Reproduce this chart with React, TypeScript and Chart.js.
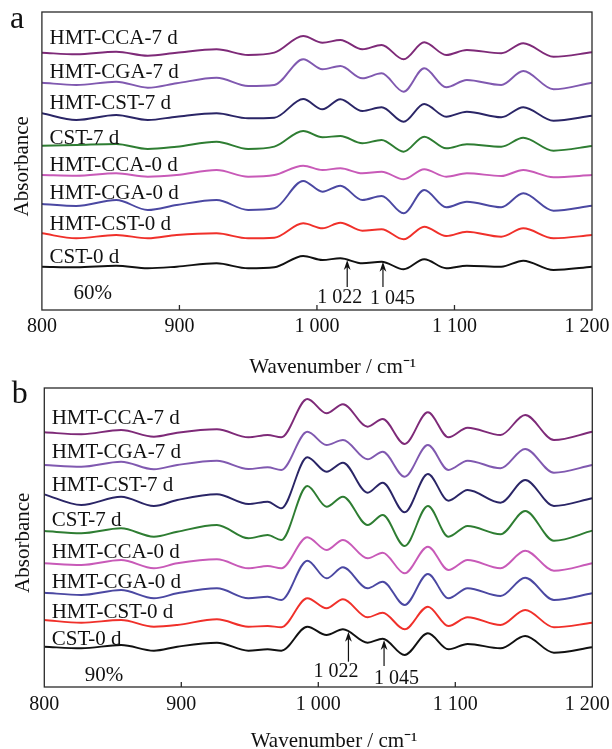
import React, { useEffect, useRef } from 'react';
import { Chart, registerables } from 'chart.js';

Chart.register(...registerables);

const FONT = '"Liberation Serif", "Times New Roman", serif';
const INK = '#111111';

// ---------- data ----------
const SERIES_NAMES = ['HMT-CCA-7 d', 'HMT-CGA-7 d', 'HMT-CST-7 d', 'CST-7 d', 'HMT-CCA-0 d', 'HMT-CGA-0 d', 'HMT-CST-0 d', 'CST-0 d'];
const SERIES_COLORS = ['#7E2A78', '#8059B0', '#2A2566', '#2E7D32', '#C85AB8', '#4B48A2', '#F0302A', '#111111'];
const X_TICKS = [800, 900, 1000, 1100, 1200];

// panel a (60%) wavenumbers (cm-1) and stacked absorbance (arb. units)
const XA = [800, 825, 854, 877, 898, 927, 950, 969, 990, 1004, 1017, 1033, 1047, 1063, 1078, 1094, 1109, 1134, 1150, 1172, 1200];
const A_CCA7 = [258.3, 256.7, 259.3, 255.3, 258.3, 261.7, 256, 258.3, 275, 268.3, 271, 261.7, 266, 251.7, 268.7, 256, 261, 257.7, 267.7, 254.3, 258.7];
const A_CGA7 = [228.3, 226, 229.3, 223.3, 227.7, 233.3, 225, 226, 251.7, 241.7, 245, 232.7, 237.7, 219.3, 242.7, 223.7, 231, 226, 240, 221.7, 228.3];
const A_HCST7 = [197.7, 191, 196, 191, 194.3, 197.7, 192.7, 193.3, 212, 201.7, 211.7, 200, 203.7, 189.3, 207, 194.3, 199.3, 193.7, 203.7, 190.3, 195.3];
const A_CST7 = [165.3, 166, 167, 162, 164.3, 169.3, 162, 164.3, 180, 173.7, 175, 167.7, 171, 159.3, 174.3, 162.7, 166.7, 164.3, 173.3, 160.3, 165];
const A_CCA0 = [136, 135.3, 137.7, 134.3, 136, 141, 134.3, 136, 145.3, 141, 142.7, 137.7, 139.3, 131.7, 141.7, 134.3, 137.7, 135, 141, 133.7, 136];
const A_CGA0 = [107, 105, 111, 101, 106, 111, 101, 102.7, 130, 119.3, 125.3, 111, 115, 97.7, 121, 103.7, 109.3, 103.7, 117.7, 100.3, 105.3];
const A_HCST0 = [77.7, 72.7, 76, 72.7, 76, 77.7, 72.7, 73.3, 87.7, 82.7, 88.3, 80.3, 81.7, 71.7, 84.3, 75, 79.3, 74.3, 82.7, 72.7, 76];
const A_CST0 = [44.3, 43.7, 45.3, 42.7, 44.3, 47.7, 42.7, 43.7, 55, 51, 52.7, 47.7, 49.3, 41.7, 51.7, 42.7, 45.3, 44.3, 50.3, 41, 44.3];

// panel b (90%)
const XB = [800, 827, 856, 880, 897, 926, 949, 963, 973, 992, 1006, 1018, 1036, 1047, 1063, 1080, 1095, 1109, 1133, 1151, 1172, 1200];
const B_CCA7 = [254.7, 252.7, 257, 250.3, 254.3, 257.7, 249.7, 252, 249.7, 288, 273.7, 282.7, 260.3, 268, 243, 274.7, 249.7, 259.3, 252, 272, 247, 255.3];
const B_CGA7 = [222, 220.3, 225.3, 217.7, 222, 226.3, 218, 219.7, 217, 255.3, 242, 247, 227.7, 235.3, 210.3, 242, 217, 226.3, 218.7, 238, 214.3, 222];
const B_HCST7 = [192.7, 182, 190.3, 181, 187, 192.7, 183, 185.3, 178.7, 229.7, 215.3, 224.3, 194.3, 204.3, 174.7, 213, 186.3, 197, 184.3, 207, 181, 188.7];
const B_CST7 = [156, 153.7, 158.7, 150.3, 155.3, 162, 148.7, 152, 147, 201, 180.3, 190.3, 162, 172, 141, 181, 150.3, 161, 152.7, 176, 146.3, 156.3];
const B_CCA0 = [123.7, 122, 127, 118.7, 123.7, 127.7, 118.7, 121, 118.7, 149.7, 137, 147, 128.7, 134.3, 113.7, 140.3, 117, 127, 118.7, 136.3, 116.3, 123.7];
const B_CGA0 = [94.3, 92, 97, 88.7, 93.7, 98.7, 88.7, 90.3, 87, 126.3, 108.7, 119.7, 98.7, 105.3, 82, 113, 88.7, 98.7, 91, 109.3, 87, 93.7];
const B_HCST0 = [67, 64.3, 67, 60.3, 62, 67.7, 60.3, 61, 59.7, 88.7, 78.7, 87.7, 69.7, 74.3, 57.7, 80.3, 61, 69.7, 62, 77, 59.7, 64.3];
const B_CST0 = [40.3, 38.7, 42, 36.3, 40.3, 44.3, 36.3, 37.7, 36.3, 60.3, 52, 57.7, 44.3, 48.3, 32, 53.7, 37.7, 43, 38.7, 51, 34.3, 39.7];

// marked peaks
const A_MARKS = [
  { text: '1 022', at: 1022, tip: 51, tail: 24, tx: 1016.6, ty: 13 },
  { text: '1 045', at: 1048, tip: 49.3, tail: 24, tx: 1055, ty: 12.5 },
];
const B_MARKS = [
  { text: '1 022', at: 1022, tip: 55.3, tail: 25.3, tx: 1013, ty: 15.5 },
  { text: '1 045', at: 1048, tip: 47, tail: 21, tx: 1057, ty: 8.5 },
];

const NB = '\u00A0';
const X_TITLE = NB.repeat(6) + 'Wavenumber / cm\u207B\u00B9';
const Y_TITLE = 'Absorbance' + NB.repeat(2);

type Mark = { text: string; at: number; tip: number; tail: number; tx: number; ty: number };
type PanelCfg = {
  height: number;
  letter: string;
  letterPos: [number, number];
  pct: string;
  pctAt: [number, number];
  x: number[];
  series: number[][];
  yMin: number;
  yMax: number;
  gaps: number[];
  labelDx: number;
  marks: Mark[];
  pad: { top: number; right: number; left: number; bottom: number };
  yTitlePad: { top: number; bottom: number };
  xTickPad: number;
  xTitleLH: number;
  xTitlePad: { top: number; bottom: number };
};

const PANEL_A: PanelCfg = {
  height: 380,
  letter: 'a',
  letterPos: [10, 27.7],
  pct: '60%',
  pctAt: [837, 18],
  x: XA,
  series: [A_CCA7, A_CGA7, A_HCST7, A_CST7, A_CCA0, A_CGA0, A_HCST0, A_CST0],
  yMin: 1,
  yMax: 299,
  gaps: [9, 5, 4.3, 2, 4, 5.3, 3.3, 3.3],
  labelDx: 7.6,
  marks: A_MARKS,
  pad: { top: 12, right: 20, left: 0, bottom: 0 },
  yTitlePad: { top: 10, bottom: 6.7 },
  xTickPad: 5,
  xTitleLH: 1.2,
  xTitlePad: { top: 10.8, bottom: 0 },
};

const PANEL_B: PanelCfg = {
  height: 369,
  letter: 'b',
  letterPos: [11.7, 22.7],
  pct: '90%',
  pctAt: [843.6, 12],
  x: XB,
  series: [B_CCA7, B_CGA7, B_HCST7, B_CST7, B_CCA0, B_CGA0, B_HCST0, B_CST0],
  yMin: 0,
  yMax: 299,
  gaps: [8.6, 7.3, 3.3, 5, 5.6, 4.7, 2.3, 1.4],
  labelDx: 7.4,
  marks: B_MARKS,
  pad: { top: 8, right: 19.7, left: 0, bottom: 0 },
  yTitlePad: { top: 11.1, bottom: 8 },
  xTickPad: 6,
  xTitleLH: 0.7,
  xTitlePad: { top: 11.3, bottom: 0 },
};

function fmtTick(v: number): string {
  if (v >= 1000) {
    const s = `${Math.floor(v / 1000)} ${String(v % 1000).padStart(3, '0')}`;
    return v === 1200 ? s + NB + NB : s;
  }
  return String(v);
}

function drawArrow(ctx: CanvasRenderingContext2D, x: number, yTail: number, yTip: number) {
  const headLen = 10;
  const headW = 3.4;
  ctx.beginPath();
  ctx.lineWidth = 1.2;
  ctx.moveTo(x, yTail);
  ctx.lineTo(x, yTip + headLen - 3);
  ctx.stroke();
  ctx.beginPath();
  ctx.moveTo(x, yTip);
  ctx.lineTo(x + headW, yTip + headLen);
  ctx.lineTo(x, yTip + headLen - 3);
  ctx.lineTo(x - headW, yTip + headLen);
  ctx.closePath();
  ctx.fill();
}

function makeDecor(p: PanelCfg) {
  return {
    id: 'panelDecor' + p.letter,
    afterDraw(chart: any) {
      const { ctx, chartArea: a } = chart;
      const xs = chart.scales.x;
      const ys = chart.scales.y;
      ctx.save();
      // frame
      ctx.strokeStyle = '#2a2a2a';
      ctx.lineWidth = 1.3;
      ctx.strokeRect(a.left, a.top, a.right - a.left, a.bottom - a.top);
      // inward tick marks
      ctx.beginPath();
      X_TICKS.forEach((v) => {
        if (v > X_TICKS[0] && v < X_TICKS[X_TICKS.length - 1]) {
          const px = xs.getPixelForValue(v);
          ctx.moveTo(px, a.bottom);
          ctx.lineTo(px, a.bottom - 5);
        }
      });
      ctx.stroke();
      // curve labels
      ctx.fillStyle = INK;
      ctx.strokeStyle = INK;
      ctx.font = `21px ${FONT}`;
      ctx.textAlign = 'left';
      ctx.textBaseline = 'alphabetic';
      SERIES_NAMES.forEach((name, i) => {
        const y = ys.getPixelForValue(p.series[i][0]) - p.gaps[i];
        ctx.fillText(name, a.left + p.labelDx, y);
      });
      // percentage
      ctx.textAlign = 'center';
      ctx.textBaseline = 'middle';
      ctx.fillText(p.pct, xs.getPixelForValue(p.pctAt[0]), ys.getPixelForValue(p.pctAt[1]));
      // peak marks
      ctx.font = `20px ${FONT}`;
      p.marks.forEach((m) => {
        const x = xs.getPixelForValue(m.at);
        drawArrow(ctx, x, ys.getPixelForValue(m.tail), ys.getPixelForValue(m.tip));
        ctx.fillText(m.text, xs.getPixelForValue(m.tx), ys.getPixelForValue(m.ty));
      });
      // panel letter
      ctx.font = `32px ${FONT}`;
      ctx.textAlign = 'left';
      ctx.textBaseline = 'alphabetic';
      ctx.fillText(p.letter, p.letterPos[0], p.letterPos[1]);
      ctx.restore();
    },
  };
}

function Panel({ cfg }: { cfg: PanelCfg }) {
  const ref = useRef<HTMLCanvasElement>(null);
  useEffect(() => {
    if (!ref.current) return;
    const datasets = cfg.series.map((vals, i) => ({
      label: SERIES_NAMES[i],
      data: vals.map((v, j) => ({ x: cfg.x[j], y: v })),
      borderColor: SERIES_COLORS[i],
      backgroundColor: SERIES_COLORS[i],
      borderWidth: 1.9,
      pointRadius: 0,
      fill: false,
      cubicInterpolationMode: 'monotone' as const,
    }));
    const chart = new Chart(ref.current, {
      type: 'line',
      data: { datasets },
      plugins: [makeDecor(cfg)],
      options: {
        animation: false,
        responsive: false,
        devicePixelRatio: 1,
        events: [],
        layout: { padding: cfg.pad },
        plugins: { legend: { display: false }, tooltip: { enabled: false } },
        scales: {
          x: {
            type: 'linear',
            min: X_TICKS[0],
            max: X_TICKS[X_TICKS.length - 1],
            afterBuildTicks: (s: any) => {
              s.ticks = X_TICKS.map((v) => ({ value: v }));
            },
            afterFit: (s: any) => {
              s.paddingLeft = 0;
              s.paddingRight = 0;
            },
            ticks: {
              autoSkip: false,
              maxRotation: 0,
              padding: cfg.xTickPad,
              color: INK,
              font: { family: FONT, size: 20, lineHeight: 1.2 },
              callback: (v: any) => fmtTick(Number(v)),
            },
            grid: { display: false, drawTicks: false },
            border: { display: false },
            title: {
              display: true,
              text: X_TITLE,
              color: INK,
              font: { family: FONT, size: 21, lineHeight: cfg.xTitleLH },
              padding: cfg.xTitlePad,
            },
          },
          y: {
            type: 'linear',
            min: cfg.yMin,
            max: cfg.yMax,
            ticks: { display: false },
            grid: { display: false, drawTicks: false },
            border: { display: false },
            title: {
              display: true,
              text: Y_TITLE,
              color: INK,
              font: { family: FONT, size: 21, lineHeight: 1.2 },
              padding: cfg.yTitlePad,
            },
          },
        },
      },
    });
    return () => chart.destroy();
  }, [cfg]);
  return (
    <canvas
      ref={ref}
      width={612}
      height={cfg.height}
      style={{ display: 'block', width: 612, height: cfg.height }}
    />
  );
}

export default function App() {
  return (
    <div style={{ position: 'absolute', left: 0, top: 0, width: 612, height: 749, background: '#ffffff' }}>
      <Panel cfg={PANEL_A} />
      <Panel cfg={PANEL_B} />
    </div>
  );
}
